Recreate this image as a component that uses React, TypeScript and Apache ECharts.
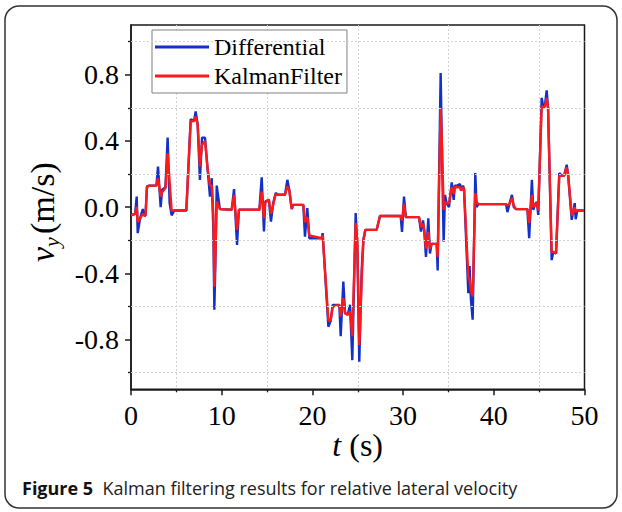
import React, { useEffect, useRef } from "react";
import * as echarts from "echarts";

// Time stamps (s) shared by both traces
const T = [
  0.0, 0.45, 0.63, 0.74, 1.0, 1.3, 1.45, 1.6, 1.76, 2.0,
  2.8, 2.98, 3.27, 3.43, 3.8, 4.04, 4.26, 4.48, 4.78, 6.1,
  6.58, 6.95, 7.13, 7.35, 7.6, 7.83, 8.16, 8.45, 8.71, 8.9,
  9.08, 9.19, 9.3, 9.45, 9.8, 11.1, 11.36, 11.69, 11.9, 14.15,
  14.41, 14.66, 14.8, 15.2, 15.43, 15.7, 15.95, 16.2, 16.98, 17.24,
  17.46, 17.72, 17.9, 19.0, 19.18, 19.44, 19.66, 21.02, 21.13, 21.76,
  22.0, 22.24, 22.97, 23.12, 23.41, 23.6, 23.9, 24.15, 24.4, 24.77,
  24.95, 25.17, 25.43, 25.62, 25.84, 27.09, 27.45, 29.73, 29.88, 30.1,
  30.3, 31.75, 31.97, 32.2, 32.34, 32.52, 32.78, 32.96, 33.14, 33.7,
  33.81, 34.14, 34.3, 34.47, 34.62, 34.8, 35.06, 35.36, 35.58, 35.7,
  35.98, 36.27, 36.4, 36.6, 36.72, 37.19, 37.33, 37.48, 37.67, 37.96,
  38.1, 38.3, 41.35, 41.5, 41.7, 42.0, 42.2, 42.45, 43.7, 43.9,
  44.2, 44.35, 44.55, 44.75, 44.9, 45.28, 45.47, 45.65, 45.83, 45.98,
  46.38, 46.56, 46.86, 47.22, 47.5, 47.75, 48.04, 48.2, 48.59, 48.77,
  48.92, 49.03, 49.2, 49.95,
];

// Lateral velocity from differentiation (m/s)
const DIFFERENTIAL = [
  -0.05, -0.04, 0.064, -0.157, -0.067, -0.011, -0.05, -0.05, 0.125, 0.13,
  0.13, 0.245, 0.0, 0.105, 0.12, 0.42, 0.024, -0.05, -0.02, -0.02,
  0.53, 0.52, 0.578, 0.5, 0.165, 0.42, 0.42, 0.226, 0.064, 0.175,
  -0.137, -0.62, -0.35, 0.13, -0.012, -0.016, 0.109, -0.228, -0.016, -0.016,
  0.18, -0.147, 0.034, 0.045, -0.087, 0.03, 0.085, 0.075, 0.075, 0.165,
  0.1, -0.012, 0.014, 0.014, -0.178, -0.006, -0.188, -0.188, -0.157, -0.722,
  -0.69, -0.59, -0.59, -0.78, -0.45, -0.64, -0.65, -0.59, -0.924, -0.036,
  -0.24, -0.934, -0.38, -0.198, -0.137, -0.137, -0.053, -0.053, -0.15, 0.064,
  -0.06, -0.06, -0.147, -0.08, -0.15, -0.3, -0.067, -0.28, -0.222, -0.222,
  -0.383, 0.81, 0.286, -0.208, 0.074, 0.024, 0.0, 0.149, 0.044, 0.13,
  0.13, 0.14, 0.1, 0.13, 0.11, -0.52, -0.355, -0.56, -0.68, 0.206,
  0.0, 0.018, 0.018, -0.03, 0.015, 0.074, 0.0, -0.012, -0.012, -0.188,
  0.165, -0.016, 0.018, 0.03, -0.047, 0.66, 0.6, 0.62, 0.705, 0.6,
  -0.32, -0.27, -0.28, 0.206, 0.19, 0.19, 0.256, 0.19, -0.077, -0.02,
  0.024, -0.073, -0.02, -0.02,
];

// Lateral velocity estimated by the Kalman filter (m/s)
const KALMAN = [
  -0.05, -0.04, 0.004, -0.09, -0.07, -0.04, -0.05, -0.05, 0.12, 0.13,
  0.13, 0.175, 0.064, 0.09, 0.115, 0.327, 0.15, -0.02, -0.02, -0.02,
  0.518, 0.52, 0.547, 0.5, 0.246, 0.377, 0.4, 0.23, 0.13, 0.13,
  -0.05, -0.48, -0.3, 0.034, -0.012, -0.016, 0.074, -0.137, -0.016, -0.016,
  0.094, -0.067, 0.03, 0.045, -0.04, 0.02, 0.08, 0.075, 0.075, 0.125,
  0.1, -0.01, 0.014, 0.014, -0.09, -0.06, -0.17, -0.188, -0.17, -0.68,
  -0.69, -0.6, -0.59, -0.66, -0.55, -0.64, -0.65, -0.63, -0.78, -0.097,
  -0.2, -0.833, -0.45, -0.2, -0.137, -0.137, -0.053, -0.053, -0.08, 0.02,
  -0.06, -0.06, -0.12, -0.1, -0.14, -0.25, -0.15, -0.25, -0.222, -0.222,
  -0.3, 0.6, 0.35, -0.016, 0.03, 0.024, 0.024, 0.12, 0.08, 0.12,
  0.12, 0.12, 0.1, 0.12, 0.11, -0.42, -0.44, -0.5, -0.54, 0.085,
  0.03, 0.018, 0.018, 0.01, 0.015, 0.056, 0.01, -0.012, -0.012, -0.097,
  0.074, 0.0, 0.018, 0.025, -0.02, 0.61, 0.6, 0.61, 0.66, 0.6,
  -0.27, -0.27, -0.28, 0.19, 0.19, 0.19, 0.24, 0.19, -0.05, -0.03,
  0.0, -0.03, -0.02, -0.02,
];

const SERIES_NAMES = ["Differential", "KalmanFilter"];
const Y_MAJOR = [-0.8, -0.4, 0, 0.4, 0.8];
const Y_MINOR = [-1.0, -0.6, -0.2, 0.2, 0.6, 1.0];

const SERIF = "'Liberation Serif', 'Times New Roman', serif";
const SANS = "'Open Sans', 'Noto Sans', sans-serif";
const INK = "#1a1a1a";
const GRID_LINE = { color: "#d4d4d4", width: 1, type: [2, 2] as number[] };

export default function App() {
  const ref = useRef<HTMLDivElement>(null);

  useEffect(() => {
    const chart = echarts.init(ref.current!, null, { renderer: "svg" });
    const diff = T.map((t, i) => [t, DIFFERENTIAL[i]]);
    const kf = T.map((t, i) => [t, KALMAN[i]]);

    chart.setOption({
      animation: false,
      backgroundColor: "#ffffff",
      grid: {
        left: 131,
        right: 37.5,
        top: 25,
        bottom: 122.7,
        show: true,
        borderColor: INK,
        borderWidth: 1.5,
        backgroundColor: "transparent",
        containLabel: false,
        outerBoundsMode: "none",
      },
      legend: {
        orient: "vertical",
        left: 152,
        top: 30,
        padding: [5, 5, 5, 3],
        itemGap: 5,
        itemWidth: 54,
        itemHeight: 3,
        icon: "rect",
        backgroundColor: "#ffffff",
        borderColor: "#808080",
        borderWidth: 1,
        borderRadius: 0,
        textStyle: { fontFamily: SERIF, fontSize: 24, color: "#000" },
        data: SERIES_NAMES,
      },
      xAxis: [
        {
          type: "value",
          min: 0,
          max: 50,
          interval: 10,
          axisLine: { show: true, onZero: false, lineStyle: { color: INK, width: 1.5 } },
          axisTick: { show: true, length: 6, lineStyle: { color: INK, width: 1.5 } },
          minorTick: { show: true, splitNumber: 2, length: 3, lineStyle: { color: INK, width: 1.3 } },
          splitLine: { show: false },
          minorSplitLine: { show: true, lineStyle: GRID_LINE },
          axisLabel: { fontFamily: SERIF, fontSize: 28, color: "#000", margin: 12 },
        },
      ],
      yAxis: [
        {
          type: "value",
          min: -1.1,
          max: 1.1,
          position: "left",
          axisLine: { show: true, onZero: false, lineStyle: { color: INK, width: 1.5 } },
          axisTick: { show: true, length: 6, customValues: Y_MAJOR, lineStyle: { color: INK, width: 1.5 } },
          splitLine: { show: false },
          axisLabel: {
            customValues: Y_MAJOR,
            fontFamily: SERIF,
            fontSize: 28,
            color: "#000",
            margin: 12,
            formatter: (v: number) => v.toFixed(1),
          },
        },
        {
          type: "value",
          min: -1.1,
          max: 1.1,
          position: "left",
          offset: 0,
          axisLine: { show: false, onZero: false },
          axisTick: { show: true, length: 3, customValues: Y_MINOR, lineStyle: { color: INK, width: 1.3 } },
          splitLine: { show: false },
          axisLabel: { show: false, customValues: Y_MINOR },
        },
      ],
      series: [
        {
          // horizontal dotted grid lines midway between labelled ticks
          type: "line",
          data: [],
          silent: true,
          z: 1,
          markLine: {
            silent: true,
            symbol: "none",
            label: { show: false },
            lineStyle: GRID_LINE,
            emphasis: { disabled: true },
            data: Y_MINOR.map((v) => ({ yAxis: v })),
          },
        },
        {
          name: SERIES_NAMES[0],
          type: "line",
          data: diff,
          showSymbol: false,
          symbol: "none",
          color: "#1530c8",
          lineStyle: { color: "#1530c8", width: 2.4 },
          z: 3,
        },
        {
          name: SERIES_NAMES[1],
          type: "line",
          data: kf,
          showSymbol: false,
          symbol: "none",
          color: "#ff1a1a",
          lineStyle: { color: "#ff1a1a", width: 2.4 },
          z: 4,
        },
      ],
      graphic: [
        {
          type: "rect",
          shape: { x: 5, y: 6, width: 612, height: 502, r: 14 },
          style: { fill: "none", stroke: "#333", lineWidth: 1.5 },
          silent: true,
        },
        {
          type: "text",
          x: 357.7,
          y: 445,
          style: {
            text: "{i|t} (s)",
            fontFamily: SERIF,
            fontSize: 32,
            fill: "#000",
            align: "center",
            verticalAlign: "middle",
            rich: { i: { fontFamily: SERIF, fontSize: 32, fontStyle: "italic", fill: "#000" } },
          },
        },
        {
          type: "group",
          x: 42,
          y: 262,
          rotation: Math.PI / 2,
          children: [
            {
              type: "text",
              x: 0,
              y: 0,
              style: { text: "v", fontFamily: SERIF, fontSize: 34, fontStyle: "italic", fill: "#000", verticalAlign: "middle" },
            },
            {
              type: "text",
              x: 15,
              y: 9,
              style: { text: "y", fontFamily: SERIF, fontSize: 22, fontStyle: "italic", fill: "#000", verticalAlign: "middle" },
            },
            {
              type: "text",
              x: 28,
              y: 0,
              style: { text: "(m/s)", fontFamily: SERIF, fontSize: 34, fill: "#000", verticalAlign: "middle" },
            },
          ],
        },
        {
          type: "text",
          x: 22,
          y: 488,
          style: {
            text: "{b|Figure 5}  Kalman filtering results for relative lateral velocity",
            fontFamily: SANS,
            fontSize: 18,
            fill: "#222",
            verticalAlign: "middle",
            rich: { b: { fontFamily: SANS, fontSize: 18, fontWeight: "bold", fill: "#111" } },
          },
        },
      ],
    });

    return () => chart.dispose();
  }, []);

  return (
    <div
      ref={ref}
      style={{ position: "fixed", left: 0, top: 0, width: 622, height: 512, background: "#fff" }}
    />
  );
}
